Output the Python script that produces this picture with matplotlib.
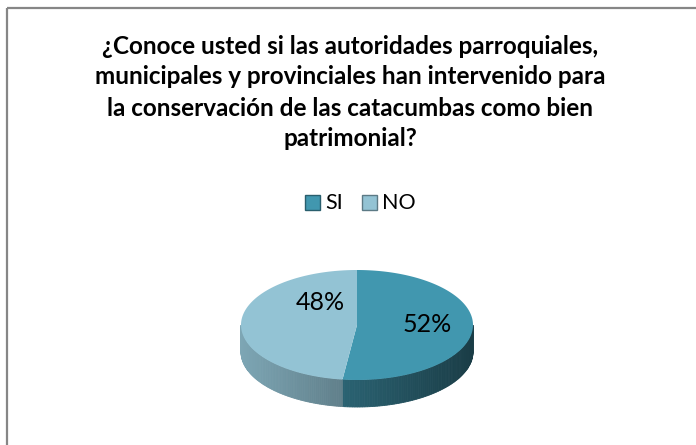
import numpy as np
import matplotlib
matplotlib.use("Agg")
import matplotlib.pyplot as plt
from matplotlib.patches import Polygon, Rectangle

categories = ["SI", "NO"]
values = [52, 48]
labels = ["52%", "48%"]
top_colors = ["#4197af", "#93c3d4"]
title_lines = [
    "¿Conoce usted si las autoridades parroquiales,",
    "municipales y provinciales han intervenido para",
    "la conservación de las catacumbas como bien",
    "patrimonial?",
]

plt.rcParams['font.family'] = ['Lato', 'DejaVu Sans']

fig = plt.figure(figsize=(6.96, 4.45), dpi=100)
ax = fig.add_axes([0, 0, 1, 1])
ax.set_xlim(0, 696)
ax.set_ylim(445, 0)
ax.axis('off')

# frame (only top and left visible in the crop)
ax.plot([7, 696], [8, 8], color='#868686', lw=1.6, solid_capstyle='butt')
ax.plot([7, 7], [8, 445], color='#868686', lw=1.6, solid_capstyle='butt')

# title
for i, line in enumerate(title_lines):
    ax.text(350, 46 + i * 31, line, ha='center', va='center',
            fontsize=17.5, fontweight='bold', color='black')

# 3d pie geometry (pixel space)
cx, cy, rx, ry, depth = 357, 325, 116, 55, 27


def pt(theta_deg, dy=0):
    t = np.radians(theta_deg)
    return cx + rx * np.sin(t), cy - ry * np.cos(t) + dy


def shade(color, x):
    f = 0.85 - (x - (cx - rx)) / (2 * rx) * 0.45
    rgb = np.array(matplotlib.colors.to_rgb(color))
    return tuple(rgb * f)


fracs = np.array(values) / sum(values)
bounds = np.concatenate([[0], np.cumsum(fracs) * 360])

# side walls (front half: 90..270 deg clockwise from top)
for k in range(len(values)):
    a0 = max(bounds[k], 90)
    a1 = min(bounds[k + 1], 270)
    if a1 <= a0:
        continue
    steps = np.linspace(a0, a1, 80)
    for s0, s1 in zip(steps[:-1], steps[1:]):
        p0, p1 = pt(s0), pt(s1)
        quad = [p0, p1, (p1[0], p1[1] + depth), (p0[0], p0[1] + depth)]
        xm = (p0[0] + p1[0]) / 2
        ax.add_patch(Polygon(quad, closed=True, facecolor=shade(top_colors[k], xm),
                             edgecolor=shade(top_colors[k], xm), lw=0.6))

# top faces
for k in range(len(values)):
    angs = np.linspace(bounds[k], bounds[k + 1], 200)
    poly = [(cx, cy)] + [pt(a) for a in angs]
    ax.add_patch(Polygon(poly, closed=True, facecolor=top_colors[k],
                         edgecolor='none'))

# data labels
label_pos = [(427, 325), (320, 302)]
for (lx, ly), lab in zip(label_pos, labels):
    ax.text(lx, ly, lab, ha='center', va='center', fontsize=18, color='black')

# legend
leg_x = [305, 362]
for x0, cat, col in zip(leg_x, categories, top_colors):
    ax.add_patch(Rectangle((x0, 195), 15, 15, facecolor=col,
                           edgecolor=shade(col, cx), lw=1.0))
    ax.text(x0 + 20, 203, cat, ha='left', va='center', fontsize=15.5, color='black')

fig.savefig("out.png", dpi=100)
